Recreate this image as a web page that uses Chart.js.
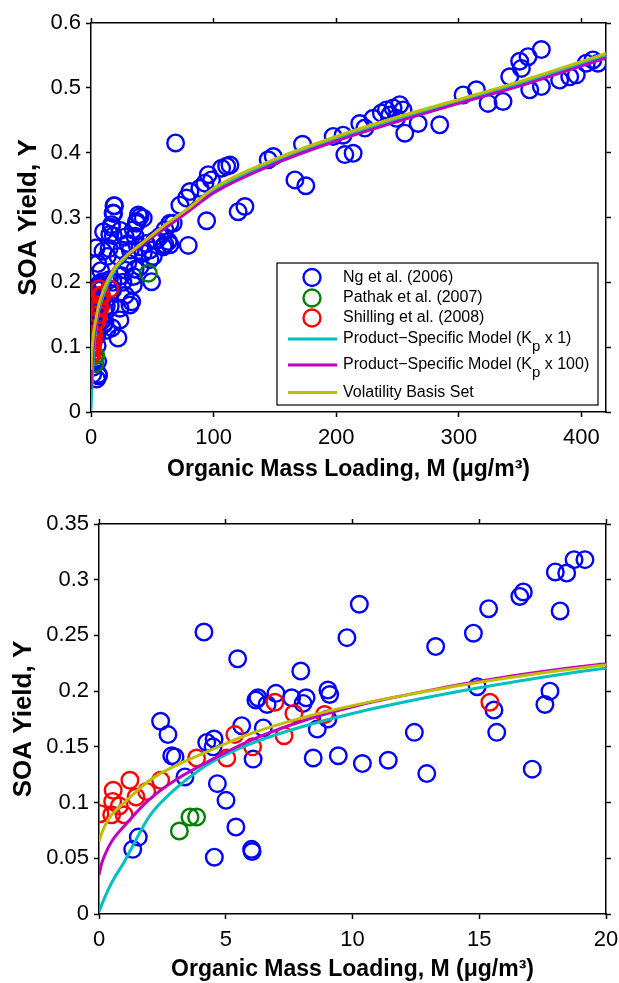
<!DOCTYPE html>
<html>
<head>
<meta charset="utf-8">
<script src="https://cdn.jsdelivr.net/npm/chart.js@4.4.1/dist/chart.umd.min.js"></script>
<style>
  html, body { margin: 0; padding: 0; background: #fff; }
  #wrap { position: relative; width: 619px; height: 983px; }
  .panel { position: absolute; left: 0; }
</style>
</head>
<body>
<div id="wrap">
  <canvas id="chartTop" class="panel" width="619" height="490" style="top:0"></canvas>
  <canvas id="chartBottom" class="panel" width="619" height="493" style="top:490px"></canvas>
</div>
<script>
"use strict";

// Ng et al. (2006): organic mass loading M and yield Y
const ngM = [
  1.33, 1.55, 2.43, 2.72, 2.87, 3.0, 3.39, 4.14, 4.25, 4.54, 4.5, 4.67, 4.55, 5.01, 5.4, 5.47, 5.63, 6.02, 6.04, 6.08,
  6.19, 6.48, 6.27, 6.63, 6.98, 7.96, 7.6, 8.17, 8.05, 9.03, 9.1, 9.03, 8.61, 9.78, 8.45, 9.44, 10.39, 11.41, 12.44, 12.93,
  10.27, 13.28, 14.77, 15.37, 16.6, 16.74, 18.0, 18.45, 18.74, 19.17, 18.19, 14.92, 17.79, 17.59, 15.58, 15.69, 17.09,
  22, 23.6, 23.6, 31.8, 33.2, 34.5, 34.5, 27.7, 40, 42.6, 48.1, 49.4, 50.8, 53.5, 58.9, 60.3, 64.4, 79.3, 94.3, 34.5,
  35.9, 37.2, 38.6, 42.6, 40, 37.2, 56.2, 52.2, 60.3, 64.4, 63, 67, 72.5, 77.9, 80.7, 88.8, 92.9, 98.3, 95.6, 106.5,
  110.6, 113.3, 69, 120, 125.5, 144.5, 148.6, 166.3, 175.2, 172.5, 25, 28, 30, 26, 30, 22, 24, 32, 28, 45, 36, 25, 40, 48,
  197.5, 205.6, 207, 213.8, 219.2, 223.3, 230.1, 236.8, 240.9, 246.4, 251.8, 243.7, 249.1, 254.5, 255.9, 266.8, 284.4,
  303.4, 314.3, 323.8, 336, 341.5, 349.6, 356.4, 367.3, 351, 357.8, 367.3, 382.2, 390.4, 395.8, 403.9, 413.4, 409.3
];
const ngY = [
  0.058, 0.069, 0.173, 0.161, 0.142, 0.141, 0.123, 0.253, 0.154, 0.157, 0.15, 0.117, 0.051, 0.102, 0.078, 0.229, 0.169, 0.058, 0.056, 0.139,
  0.192, 0.167, 0.194, 0.188, 0.198, 0.218, 0.194, 0.194, 0.189, 0.201, 0.197, 0.175, 0.166, 0.248, 0.14, 0.142, 0.135, 0.138, 0.163, 0.126,
  0.278, 0.24, 0.252, 0.274, 0.285, 0.289, 0.307, 0.306, 0.318, 0.318, 0.272, 0.204, 0.2, 0.188, 0.183, 0.163, 0.13,
  0.114, 0.142, 0.16, 0.165, 0.17, 0.196, 0.209, 0.219, 0.224, 0.245, 0.235, 0.201, 0.24, 0.265, 0.255, 0.258, 0.258, 0.257, 0.295, 0.281,
  0.271, 0.291, 0.304, 0.299, 0.301, 0.294, 0.271, 0.265, 0.281, 0.291, 0.263, 0.291, 0.319, 0.33, 0.34, 0.345, 0.353, 0.358, 0.366, 0.376,
  0.379, 0.381, 0.415, 0.309, 0.317, 0.389, 0.394, 0.358, 0.349, 0.413, 0.25, 0.27, 0.23, 0.2, 0.26, 0.24, 0.28, 0.25, 0.18, 0.26, 0.22, 0.21, 0.255, 0.25,
  0.425, 0.427, 0.397, 0.399, 0.445, 0.438, 0.453, 0.461, 0.466, 0.469, 0.474, 0.458, 0.453, 0.466, 0.43, 0.445, 0.443,
  0.489, 0.497, 0.476, 0.479, 0.517, 0.541, 0.548, 0.559, 0.53, 0.497, 0.502, 0.512, 0.517, 0.52, 0.538, 0.538, 0.543
];

// Pathak et al. (2007)
const pathakM = [3.17, 3.59, 3.85, 46.7];
const pathakY = [0.0745, 0.087, 0.087, 0.214];

// Shilling et al. (2008)
const shillingM = [0.04, 0.5, 0.56, 0.54, 0.99, 0.8, 1.22, 1.46, 1.88, 2.43, 3.85, 5.04, 5.36, 6.06, 6.94, 7.3, 7.69, 8.9, 15.42];
const shillingY = [0.09, 0.089, 0.111, 0.101, 0.089, 0.097, 0.12, 0.105, 0.11, 0.12, 0.14, 0.14, 0.161, 0.15, 0.19, 0.16, 0.18, 0.179, 0.19];

// model curves
const modelM = [0, 0.1, 0.25, 0.5, 1, 2, 3, 4, 5, 6, 8, 10, 12, 15, 20, 30, 40, 60, 80, 100, 150, 200, 250, 300, 350, 420];
const kp1Y   = [0.002, 0.008, 0.016, 0.028, 0.047, 0.088, 0.112, 0.13, 0.143, 0.153, 0.168, 0.18, 0.19, 0.203, 0.2205, 0.241, 0.256, 0.286, 0.313, 0.342, 0.387, 0.422, 0.452, 0.479, 0.507, 0.549];
const kp100Y = [0.035, 0.045, 0.054, 0.065, 0.079, 0.103, 0.12, 0.133, 0.145, 0.156, 0.173, 0.186, 0.196, 0.209, 0.2245, 0.242, 0.256, 0.283, 0.31, 0.338, 0.383, 0.418, 0.448, 0.476, 0.503, 0.546];
const vbsY   = [0.065, 0.072, 0.08, 0.089, 0.1, 0.12, 0.133, 0.143, 0.153, 0.162, 0.176, 0.187, 0.196, 0.208, 0.2235, 0.243, 0.258, 0.288, 0.315, 0.345, 0.39, 0.425, 0.455, 0.482, 0.51, 0.553];

// tick labels
const topXTicks = [0, 100, 200, 300, 400];
const topYTicks = [0, 0.1, 0.2, 0.3, 0.4, 0.5, 0.6];
const bottomXTicks = [0, 5, 10, 15, 20];
const bottomYTicks = [0, 0.05, 0.1, 0.15, 0.2, 0.25, 0.3, 0.35];

const FONT = "'Liberation Sans', Arial, Helvetica, sans-serif";
Chart.defaults.font.family = FONT;
Chart.defaults.color = "#000";

function zip(xs, ys) {
    return xs.map((x, i) => ({ x: x, y: ys[i] }));
}

function fmt(v) {
    return String(+v.toFixed(2));
}

function circles(label, xs, ys, color, order) {
    return {
        type: "scatter", label: label, data: zip(xs, ys), order: order,
        showLine: false, pointStyle: "circle", pointRadius: 8.3,
        borderColor: color, backgroundColor: "rgba(0,0,0,0)", borderWidth: 2.4
    };
}

function curve(label, ys, color, order) {
    return {
        type: "scatter", label: label, data: zip(modelM, ys), order: order,
        showLine: true, pointRadius: 0, borderColor: color, backgroundColor: color,
        borderWidth: 3, cubicInterpolationMode: "monotone"
    };
}

// legend drawn in a box in the lower right of the plot area
const boxLegend = {
    id: "boxLegend",
    afterDraw(chart, args, opts) {
        if (!opts.show) return;
        const ctx = chart.ctx, area = chart.chartArea;
        const w = 321, h = 142;
        const x0 = area.right - 8 - w, y0 = area.bottom - 7 - h;
        const rows = [14.5, 35, 55, 76, 102, 129.5];
        ctx.save();
        ctx.fillStyle = "#fff";
        ctx.fillRect(x0, y0, w, h);
        ctx.strokeStyle = "#000";
        ctx.lineWidth = 1.2;
        ctx.strokeRect(x0, y0, w, h);
        ctx.textBaseline = "middle";
        ctx.textAlign = "left";
        chart.data.datasets.forEach((ds, i) => {
            const cy = y0 + rows[i];
            ctx.strokeStyle = ds.borderColor;
            if (ds.showLine) {
                ctx.lineWidth = 3;
                ctx.beginPath();
                ctx.moveTo(x0 + 11, cy);
                ctx.lineTo(x0 + 60, cy);
                ctx.stroke();
            } else {
                ctx.lineWidth = 2.4;
                ctx.beginPath();
                ctx.arc(x0 + 35, cy, 8.5, 0, Math.PI * 2);
                ctx.stroke();
            }
            // "_p" marks a subscript p
            const parts = ds.label.split("_p");
            let tx = x0 + 66;
            ctx.fillStyle = "#000";
            parts.forEach((part, k) => {
                ctx.font = "16px " + FONT;
                ctx.fillText(part, tx, cy);
                tx += ctx.measureText(part).width;
                if (k < parts.length - 1) {
                    ctx.font = "15px " + FONT;
                    ctx.fillText("p", tx, cy + 8);
                    tx += ctx.measureText("p").width;
                }
            });
        });
        ctx.restore();
    }
};

function makeChart(id, p) {
    const ctx = document.getElementById(id).getContext("2d");
    const axisGrid = { drawOnChartArea: false, tickLength: 5, tickWidth: 1.5, color: "#000" };
    const axisBorder = { color: "#000", width: 1.5 };
    return new Chart(ctx, {
        type: "scatter",
        data: {
            datasets: [
                circles("Ng et al. (2006)", ngM, ngY, "#0000ff", 5),
                circles("Pathak et al. (2007)", pathakM, pathakY, "#008000", 4),
                circles("Shilling et al. (2008)", shillingM, shillingY, "#ff0000", 3),
                curve("Product\u2212Specific Model (K_p x 1)", kp1Y, "#00bfbf", 2),
                curve("Product\u2212Specific Model (K_p x 100)", kp100Y, "#bf00bf", 1),
                curve("Volatility Basis Set", vbsY, "#bfbf00", 0)
            ]
        },
        options: {
            responsive: false,
            animation: false,
            layout: { padding: 0 },
            plugins: {
                legend: { display: false },
                tooltip: { enabled: false },
                boxLegend: { show: p.legend }
            },
            scales: {
                x: {
                    type: "linear", position: "bottom", min: 0, max: p.xMax,
                    afterBuildTicks: s => { s.ticks = p.xTicks.map(v => ({ value: v })); },
                    ticks: { font: { size: 22 }, padding: 8, maxRotation: 0, autoSkip: false, callback: fmt },
                    grid: axisGrid, border: axisBorder,
                    title: {
                        display: true, text: "Organic Mass Loading, M (\u03bcg/m\u00b3)",
                        font: { size: 23, weight: "bold" }, padding: { top: 0, bottom: p.xTitlePad }
                    },
                    afterFit: s => { s.height = p.bottomH; s.paddingLeft = 0; s.paddingRight = 0; }
                },
                x2: {
                    type: "linear", position: "top", min: 0, max: p.xMax,
                    afterBuildTicks: s => { s.ticks = p.xTicks.map(v => ({ value: v })); },
                    ticks: { display: false },
                    grid: axisGrid, border: axisBorder,
                    afterFit: s => { s.height = p.topH; s.paddingLeft = 0; s.paddingRight = 0; }
                },
                y: {
                    type: "linear", position: "left", min: 0, max: p.yMax,
                    afterBuildTicks: s => { s.ticks = p.yTicks.map(v => ({ value: v })); },
                    ticks: { font: { size: 22 }, padding: 5, autoSkip: false, callback: fmt },
                    grid: axisGrid, border: axisBorder,
                    title: {
                        display: true, text: "SOA Yield, Y",
                        font: { size: 26, weight: "bold" }, padding: { top: p.yTitlePad, bottom: 0 }
                    },
                    afterFit: s => { s.width = p.leftW; s.paddingTop = 0; s.paddingBottom = 0; }
                },
                y2: {
                    type: "linear", position: "right", min: 0, max: p.yMax,
                    afterBuildTicks: s => { s.ticks = p.yTicks.map(v => ({ value: v })); },
                    ticks: { display: false },
                    grid: axisGrid, border: axisBorder,
                    afterFit: s => { s.width = 13; s.paddingTop = 0; s.paddingBottom = 0; }
                }
            }
        },
        plugins: [boxLegend]
    });
}

makeChart("chartTop", {
    xMax: 420, yMax: 0.6, xTicks: topXTicks, yTicks: topYTicks,
    leftW: 91, topH: 23, bottomH: 78, xTitlePad: 7, yTitlePad: 13, legend: true
});

makeChart("chartBottom", {
    xMax: 20, yMax: 0.35, xTicks: bottomXTicks, yTicks: bottomYTicks,
    leftW: 99, topH: 34, bottomH: 69, xTitlePad: 0, yTitlePad: 8, legend: false
});
</script>
</body>
</html>
